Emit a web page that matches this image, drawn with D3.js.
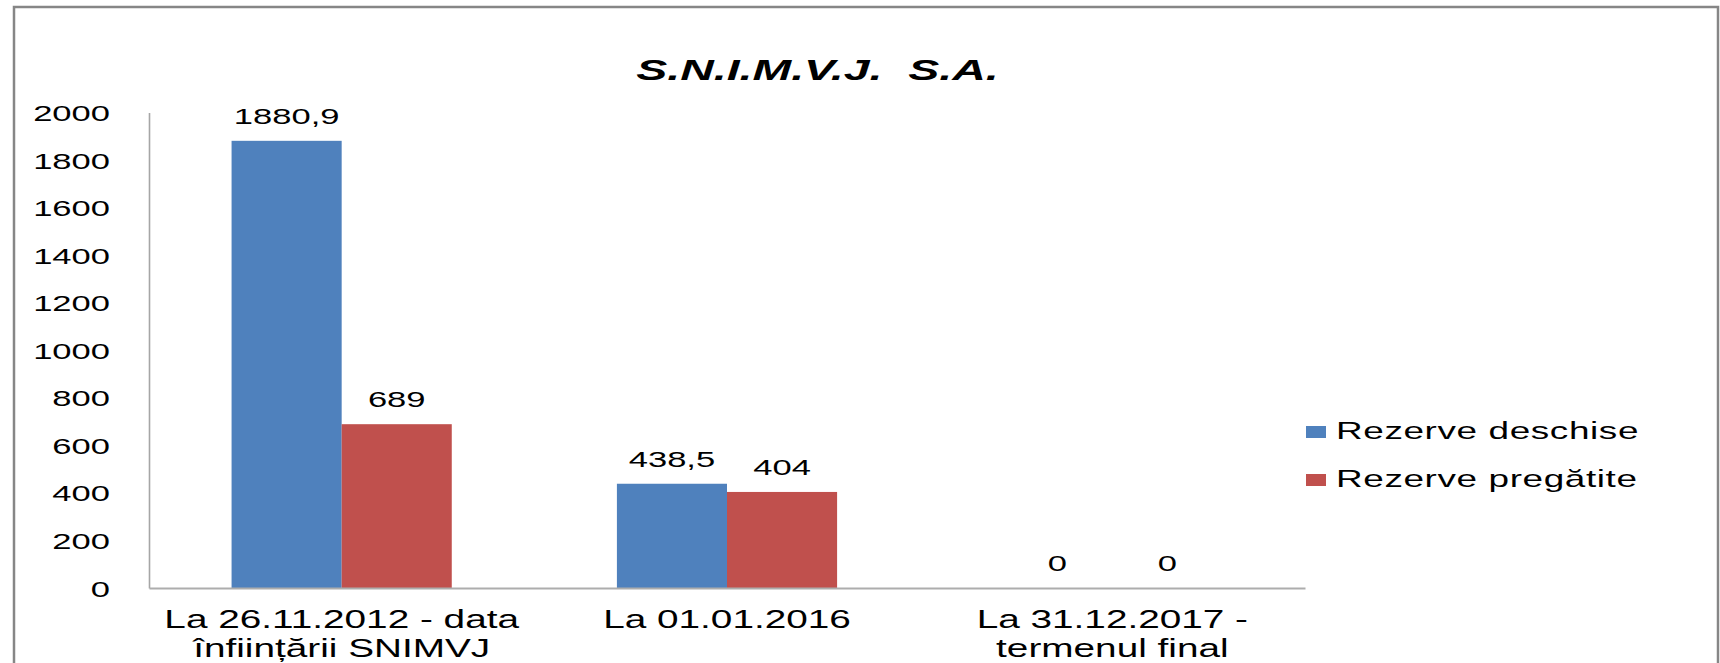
<!DOCTYPE html>
<html>
<head>
<meta charset="utf-8">
<script src="https://cdn.jsdelivr.net/npm/d3@7"></script>
<style>
  html, body { margin: 0; padding: 0; background: #fff; }
  svg { display: block; }
  text { font-family: "Liberation Sans", Arial, sans-serif; fill: #000; white-space: pre; }
</style>
</head>
<body>
<svg id="chart" width="1720" height="663"></svg>
<script>
// ---- data ----
const title = "S.N.I.M.V.J.  S.A.";
const categories = ["La 26.11.2012 - data înființării SNIMVJ", "La 01.01.2016", "La 31.12.2017 - termenul final"];
const categoryLines = [["La 26.11.2012 - data", "înființării SNIMVJ"], ["La 01.01.2016"], ["La 31.12.2017 -", "termenul final"]];
const seriesNames = ["Rezerve deschise", "Rezerve pregătite"];
const rezerveDeschise = [1880.9, 438.5, 0];
const rezervePregatite = [689, 404, 0];
const yTicks = [0, 200, 400, 600, 800, 1000, 1200, 1400, 1600, 1800, 2000];
const colors = ["#4F81BD", "#C0504D"];

// ---- layout ----
const SX = 1.55; // horizontal stretch of the original picture
const W = 1720, H = 663;
const plot = { left: 149, right: 1305, top: 112.5, bottom: 588 };

const svg = d3.select("#chart");

// outer chart frame
svg.append("path")
  .attr("d", `M14,${H + 5} V7 H1718 V${H + 5}`)
  .attr("fill", "none").attr("stroke", "#868686").attr("stroke-width", 2.5);

function stretchedText(g, x, y, str, opts = {}) {
  return g.append("text")
    .attr("transform", `translate(${x},${y}) scale(${SX},1)`)
    .attr("text-anchor", opts.anchor || "middle")
    .style("font-size", (opts.size || 22) + "px")
    .style("font-weight", opts.weight || "normal")
    .style("font-style", opts.style || "normal")
    .style("letter-spacing", opts.ls || "0px")
    .text(str);
}

// title
stretchedText(svg, 817.5, 80, title, { size: 30, weight: "bold", style: "italic" });

// scales
const x = d3.scaleBand().domain(categories).range([plot.left, plot.right])
  .paddingInner(1.5 / 3.5).paddingOuter(0.75 / 3.5);
const xs = d3.scaleBand().domain(seriesNames).range([0, x.bandwidth()]).padding(0);
const y = d3.scaleLinear().domain([0, 2000]).range([plot.bottom, plot.top]);

const rows = categories.map((c, i) => ({ cat: c, lines: categoryLines[i], values: [rezerveDeschise[i], rezervePregatite[i]] }));

// y axis
const yAxis = svg.append("g").attr("transform", `translate(${plot.left},0)`)
  .call(d3.axisLeft(y).tickValues(yTicks).tickFormat(d3.format("d")).tickSize(0).tickSizeOuter(0).tickPadding(0));
yAxis.select(".domain").attr("stroke", "#A6A6A6").attr("stroke-width", 1.6);
yAxis.selectAll("text")
  .attr("x", -39 / SX)
  .attr("dy", "0.36em")
  .attr("transform", `scale(${SX},1)`)
  .style("font-family", "'Liberation Sans', Arial, sans-serif")
  .style("font-size", "22.3px")
  .attr("fill", "#000");

// bars
const groups = svg.append("g").selectAll("g").data(rows).join("g")
  .attr("transform", d => `translate(${x(d.cat)},0)`);
groups.selectAll("rect")
  .data(d => d.values.map((v, k) => ({ s: seriesNames[k], v, k })))
  .join("rect")
  .attr("x", d => xs(d.s))
  .attr("y", d => y(d.v))
  .attr("width", xs.bandwidth())
  .attr("height", d => y(0) - y(d.v))
  .attr("fill", d => colors[d.k]);

// x axis line
const xAxis = svg.append("g").attr("transform", `translate(0,${plot.bottom})`)
  .call(d3.axisBottom(x).tickSize(0).tickSizeOuter(0).tickFormat(""));
xAxis.select(".domain").attr("stroke", "#ADADAD").attr("stroke-width", 2);

// data labels
groups.each(function (d) {
  const g = d3.select(this);
  d.values.forEach((v, k) => {
    stretchedText(g, xs(seriesNames[k]) + xs.bandwidth() / 2, y(v) - 17,
      String(v).replace(".", ","), { size: 22.3 });
  });
});

// category labels
rows.forEach(d => {
  d.lines.forEach((ln, j) => {
    stretchedText(svg, x(d.cat) + x.bandwidth() / 2, 628 + j * 29, ln, { size: 25 });
  });
});

// legend
const legend = svg.append("g");
seriesNames.forEach((s, k) => {
  const yy = 426 + k * 48;
  legend.append("rect").attr("x", 1306).attr("y", yy).attr("width", 20).attr("height", 12).attr("fill", colors[k]);
  stretchedText(legend, 1336, yy + 13.3, s, { size: 23.8, anchor: "start", ls: "0.4px" });
});
</script>
</body>
</html>
